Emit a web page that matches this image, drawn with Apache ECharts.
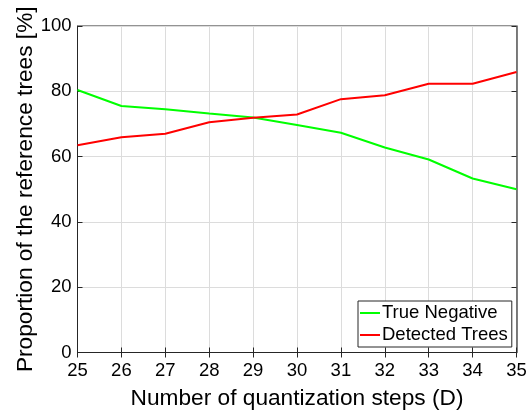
<!DOCTYPE html>
<html>
<head>
<meta charset="utf-8">
<script src="https://cdn.jsdelivr.net/npm/echarts@6/dist/echarts.min.js"></script>
<style>
  html, body { margin: 0; padding: 0; background: #fff; }
  #chart { width: 527px; height: 410px; }
</style>
</head>
<body>
<div id="chart"></div>
<script>
// Quantization steps D on the x axis
const steps = [25, 26, 27, 28, 29, 30, 31, 32, 33, 34, 35];
// Share of reference trees (%) for each D
const trueNegative = [80.4, 75.5, 74.5, 73.2, 72.0, 69.7, 67.3, 62.8, 59.1, 53.3, 50.0];
const detectedTrees = [63.5, 65.9, 67.0, 70.5, 71.9, 72.9, 77.6, 78.8, 82.3, 82.3, 85.9];
const seriesNames = ['True Negative', 'Detected Trees'];
const yTicks = [0, 20, 40, 60, 80, 100];

const font = 'Liberation Sans, Arial, Helvetica, sans-serif';
const toPairs = vals => steps.map((s, i) => [s, vals[i]]);

const chart = echarts.init(document.getElementById('chart'), null, { renderer: 'canvas' });

const tickStyle = { show: true, inside: true, length: 5, lineStyle: { color: '#262626', width: 1 } };

chart.setOption({
  animation: false,
  backgroundColor: '#ffffff',
  grid: {
    left: 77.5, right: 10.5, top: 26, bottom: 57.5,
    outerBoundsMode: 'none', containLabel: false,
    show: true, borderColor: '#262626', borderWidth: 1, backgroundColor: 'transparent'
  },
  legend: {
    orient: 'vertical',
    left: 358, top: 301,
    padding: [2, 4, 2, 2],
    itemGap: 2,
    itemWidth: 20, itemHeight: 2,
    icon: 'rect',
    backgroundColor: '#ffffff',
    borderColor: '#262626', borderWidth: 1, borderRadius: 0,
    textStyle: { fontFamily: font, fontSize: 18.5, color: '#000', lineHeight: 20, padding: [0, 0, 0, -3] },
    data: seriesNames
  },
  xAxis: [{
    type: 'value', min: steps[0], max: steps[steps.length - 1], interval: 1,
    name: 'Number of quantization steps (D)', nameLocation: 'middle', nameGap: 35,
    nameMoveOverlap: false,
    nameTextStyle: { fontFamily: font, fontSize: 22.7, color: '#000' },
    axisLine: { show: true, lineStyle: { color: '#262626', width: 1 } },
    axisTick: tickStyle,
    axisLabel: { fontFamily: font, fontSize: 18.5, color: '#000', margin: 9 },
    splitLine: { show: true, lineStyle: { color: '#dcdcdc', width: 1 } }
  }, {
    type: 'value', position: 'top', min: steps[0], max: steps[steps.length - 1], interval: 1,
    axisLine: { show: true, lineStyle: { color: '#262626', width: 1 } },
    axisTick: tickStyle, axisLabel: { show: false }, splitLine: { show: false }
  }],
  yAxis: [{
    type: 'value', min: yTicks[0], max: yTicks[yTicks.length - 1], interval: 20,
    name: 'Proportion of the reference trees [%]', nameLocation: 'middle', nameGap: 40,
    nameMoveOverlap: false,
    nameTextStyle: { fontFamily: font, fontSize: 22.7, color: '#000' },
    axisLine: { show: true, lineStyle: { color: '#262626', width: 1 } },
    axisTick: tickStyle,
    axisLabel: { fontFamily: font, fontSize: 18.5, color: '#000', margin: 6 },
    splitLine: { show: true, lineStyle: { color: '#dcdcdc', width: 1 } }
  }, {
    type: 'value', position: 'right', min: yTicks[0], max: yTicks[yTicks.length - 1], interval: 20,
    axisLine: { show: true, lineStyle: { color: '#555', width: 1.5 } },
    axisTick: tickStyle, axisLabel: { show: false }, splitLine: { show: false }
  }],
  series: [{
    name: seriesNames[0], type: 'line', data: toPairs(trueNegative),
    showSymbol: false, symbol: 'none', color: '#00ff00',
    lineStyle: { color: '#00ff00', width: 2 }, z: 3
  }, {
    name: seriesNames[1], type: 'line', data: toPairs(detectedTrees),
    showSymbol: false, symbol: 'none', color: '#ff0000',
    lineStyle: { color: '#ff0000', width: 2 }, z: 4
  }]
});
</script>
</body>
</html>
